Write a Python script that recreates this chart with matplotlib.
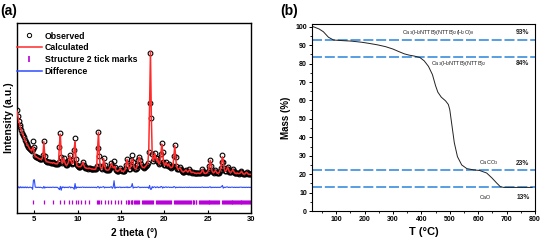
import numpy as np
import matplotlib
matplotlib.use("Agg")
import matplotlib.pyplot as plt
from matplotlib.lines import Line2D
from matplotlib.ticker import MultipleLocator

plt.rcParams['font.family'] = ['Liberation Sans', 'DejaVu Sans']
plt.rcParams['mathtext.fontset'] = 'custom'
plt.rcParams['mathtext.rm'] = 'Liberation Sans'
plt.rcParams['mathtext.bf'] = 'Liberation Sans:bold'

# ---------------- (a) PXRD Rietveld data, 2theta scan 3-30 deg, step 0.1 ----------------
two_theta = np.round(np.arange(3.0, 30.05, 0.1), 1)

observed = [
    54.0, 51.0, 48.5, 46.5, 45.0, 43.7, 42.2, 41.0, 39.8, 38.5,
    37.5, 36.5, 35.7, 35.0, 34.2, 33.6, 33.0, 32.5, 33.5, 38.0,
    35.0, 30.0, 29.6, 29.3, 29.0, 28.7, 28.5, 28.3, 28.2, 28.4,
    30.5, 38.0, 30.0, 27.6, 27.2, 27.0, 26.8, 26.7, 26.6, 26.5,
    26.4, 26.3, 26.6, 26.2, 26.0, 25.9, 25.9, 26.0, 27.0, 35.0,
    42.0, 29.5, 26.5, 26.8, 29.0, 26.8, 25.6, 25.4, 25.5, 26.2,
    28.0, 30.5, 28.0, 26.2, 25.8, 26.5, 33.0, 39.5, 28.5, 25.2,
    24.6, 24.4, 24.3, 24.4, 24.6, 25.5, 27.0, 25.4, 24.2, 23.8,
    23.6, 23.5, 23.4, 23.6, 23.5, 23.3, 23.2, 23.1, 23.0, 23.0,
    23.0, 23.3, 25.0, 34.0, 42.8, 30.0, 24.5, 23.5, 23.4, 24.8,
    29.0, 25.5, 23.2, 22.8, 22.6, 22.5, 22.8, 23.5, 24.8, 26.5,
    24.5, 24.0, 27.5, 24.0, 22.6, 22.2, 22.0, 22.1, 22.8, 23.6,
    22.6, 22.0, 21.9, 22.0, 22.3, 23.0, 25.5, 28.5, 25.5, 23.4,
    23.2, 24.5, 28.0, 30.5, 27.0, 24.2, 23.4, 23.3, 23.8, 25.5,
    28.0, 29.5, 28.0, 25.8, 24.6, 24.0, 23.8, 24.0, 24.4, 25.0,
    25.5, 26.5, 32.0, 58.0, 84.0, 50.0, 31.0, 27.5, 28.5, 31.5,
    29.0, 27.5, 29.0, 27.0, 25.8, 26.5, 31.0, 36.7, 32.0, 27.0,
    25.2, 25.5, 27.0, 25.3, 24.8, 26.0, 24.8, 24.0, 23.8, 24.2,
    25.0, 30.0, 35.8, 29.5, 24.6, 23.4, 23.0, 23.2, 24.0, 23.0,
    22.2, 21.8, 21.6, 21.8, 22.3, 22.8, 22.0, 21.6, 21.8, 23.0,
    22.2, 21.4, 21.2, 21.6, 21.2, 21.0, 20.9, 20.8, 20.9, 21.0,
    20.9, 20.8, 21.0, 21.8, 23.0, 22.0, 21.0, 20.8, 20.9, 21.2,
    21.6, 22.5, 25.0, 28.0, 25.0, 22.2, 21.4, 21.2, 21.6, 22.5,
    21.6, 21.0, 20.9, 21.2, 22.0, 23.5, 27.0, 30.5, 27.0, 23.5,
    22.0, 22.2, 23.2, 24.4, 23.0, 21.8, 21.4, 21.6, 22.2, 23.0,
    22.0, 21.2, 20.9, 20.8, 21.0, 20.8, 20.7, 20.9, 21.4, 22.0,
    21.2, 20.6, 20.4, 20.6, 21.0, 21.5, 20.8, 20.4, 20.3, 20.4,
    20.3,
]

calculated = [
    53.6, 51.3, 48.2, 46.8, 44.7, 43.9, 42.0, 41.2, 39.6, 38.7,
    37.3, 36.7, 35.5, 35.2, 34.3, 33.4, 33.1, 32.6, 34.5, 34.2,
    31.0, 29.8, 29.7, 29.2, 29.1, 28.6, 28.6, 28.2, 28.3, 28.6,
    30.9, 37.5, 30.4, 27.5, 27.3, 26.9, 26.9, 26.6, 26.7, 26.4,
    26.5, 26.2, 26.5, 26.3, 25.9, 26.0, 25.8, 26.1, 27.6, 36.2,
    41.5, 31.0, 26.2, 26.9, 28.8, 27.0, 25.5, 25.5, 25.4, 26.4,
    27.8, 30.2, 28.3, 26.1, 25.9, 26.7, 34.0, 37.5, 29.2, 25.0,
    24.7, 24.3, 24.4, 24.3, 24.7, 25.4, 26.8, 25.5, 24.1, 23.9,
    23.5, 23.6, 23.3, 23.7, 23.4, 23.4, 23.1, 23.2, 22.9, 23.1,
    22.9, 23.4, 25.2, 33.6, 42.5, 30.4, 24.3, 23.6, 23.3, 24.6,
    28.6, 25.8, 23.1, 22.9, 22.5, 22.6, 22.7, 23.6, 24.6, 26.2,
    25.0, 23.8, 24.0, 24.5, 22.5, 22.3, 21.9, 22.2, 22.7, 23.4,
    22.8, 21.9, 22.0, 21.9, 22.4, 22.9, 25.6, 28.2, 25.7, 23.3,
    23.3, 24.4, 27.6, 28.5, 27.4, 24.1, 23.5, 23.2, 23.9, 25.4,
    27.7, 29.4, 28.2, 25.7, 24.7, 23.9, 23.9, 23.9, 24.5, 24.9,
    25.6, 26.4, 32.5, 57.0, 85.0, 51.0, 30.6, 27.7, 28.3, 31.2,
    29.2, 27.4, 28.7, 27.2, 25.7, 26.6, 30.6, 36.3, 32.4, 26.8,
    25.3, 25.4, 26.7, 25.4, 24.7, 25.8, 24.9, 23.9, 23.9, 24.1,
    25.1, 29.6, 35.5, 29.8, 24.5, 23.5, 22.9, 23.3, 23.8, 23.1,
    22.1, 21.9, 21.5, 21.9, 22.2, 22.7, 22.1, 21.5, 21.9, 22.8,
    22.3, 21.3, 21.3, 21.5, 21.3, 20.9, 21.0, 20.7, 21.0, 20.9,
    21.0, 20.7, 21.1, 21.7, 22.8, 22.1, 20.9, 20.9, 20.8, 21.3,
    21.5, 22.6, 24.8, 27.7, 25.2, 22.1, 21.5, 21.1, 21.7, 22.4,
    21.7, 20.9, 21.0, 21.1, 22.1, 23.4, 26.6, 29.5, 27.4, 23.4,
    22.1, 22.1, 23.0, 24.2, 23.1, 21.7, 21.5, 21.5, 22.1, 22.9,
    22.1, 21.1, 21.0, 20.7, 21.1, 20.7, 20.8, 20.8, 21.3, 21.9,
    21.3, 20.5, 20.5, 20.5, 21.1, 21.4, 20.9, 20.3, 20.4, 20.3,
    20.4,
]

diff_offset = 13.5

# Bragg positions (structure 2)
tick_positions = [
    4.9, 6.15, 7.2, 7.95, 8.45, 9.0, 9.35, 9.75, 10.05, 10.4, 10.8, 11.25,
    12.2, 12.35, 12.5, 12.65, 13.15, 13.5, 13.85, 14.25, 14.6, 14.95,
    15.62, 15.75, 15.86, 15.98, 16.1, 16.22, 16.31, 16.45, 16.58, 16.7,
    16.83, 16.95, 17.06, 17.4, 17.52, 17.63, 17.77, 17.88, 18.0, 18.12,
    18.25, 18.36, 18.48, 18.6, 18.72, 19.05, 19.16, 19.28, 19.4, 19.51,
    19.63, 19.75, 19.86, 19.98, 20.1, 20.21, 20.33, 20.45, 20.56, 20.68,
    20.8, 21.15, 21.26, 21.38, 21.5, 21.61, 21.73, 21.85, 21.96, 22.08,
    22.2, 22.31, 22.43, 22.55, 22.66, 22.78, 22.9, 23.01, 23.13, 23.25,
    23.36, 23.48, 23.6, 23.71, 24.05, 24.15, 24.26, 24.36, 24.47, 24.57,
    24.68, 24.78, 24.89, 24.99, 25.1, 25.2, 25.31, 25.41, 25.52, 25.62,
    25.73, 25.83, 25.94, 26.04, 26.15, 26.25, 26.7, 26.8, 26.91, 27.01,
    27.12, 27.22, 27.33, 27.43, 27.54, 27.64, 27.75, 27.85, 27.96, 28.06,
    28.17, 28.27, 28.38, 28.48, 28.59, 28.69, 28.8, 28.9, 29.01, 29.11,
    29.22, 29.32, 29.43, 29.53, 29.64, 29.74, 29.85, 29.95,
]

# ---------------- (b) TGA data ----------------
temperature = [15, 20, 40, 55, 73, 91, 120, 154, 190, 215, 245, 274, 300, 321,
               340, 357, 375, 395, 410, 425, 439, 450, 458, 470, 485, 495, 500,
               508, 516, 527, 542, 560, 585, 605, 630, 648, 665, 678, 690, 790]
mass = [100.0, 100.0, 98.8, 97.3, 94.3, 92.8, 92.5, 92.2, 91.6, 91.0, 90.2, 89.2,
        87.9, 86.5, 85.3, 84.6, 84.1, 83.3, 81.5, 78.5, 74.0, 68.0, 64.5, 61.8,
        59.8, 57.8, 55.0, 46.0, 37.0, 29.5, 25.0, 23.0, 22.3, 22.0, 20.6, 18.0,
        15.2, 13.2, 12.8, 12.8]

step_levels = [92.6, 83.4, 22.2, 13.0]
step_names = [r'Ca$_3$(H$_2$NTTB)(NTTB)$_2$(H$_2$O)$_8$',
              r'Ca$_3$(H$_2$NTTB)(NTTB)$_2$', r'CaCO$_3$', 'CaO']
step_name_pos = [(333, 96.9), (434, 79.9), (603, 26.4), (605, 7.4)]
step_percent = ['93%', '84%', '23%', '13%']
step_percent_y = [96.9, 79.9, 25.8, 7.4]

fig = plt.figure(figsize=(5.43, 2.47), dpi=100)

# ---------- panel (a) ----------
ax1 = fig.add_axes([17 / 543, 34 / 247, 234 / 543, 190 / 247])
obs = np.array(observed)
calc = np.array(calculated)

ax1.plot(two_theta, obs, ls='none', marker='o', ms=3.4, mfc='none', mec='black',
         mew=0.8, zorder=2)
ax1.plot(two_theta, calc, color='#ff2a2a', lw=1.1, zorder=3)
ax1.plot(two_theta, obs - calc + diff_offset, color='#2d4bff', lw=0.8, zorder=2)
ax1.vlines(tick_positions, 4.6, 7.0, color='#b800d8', lw=0.9, zorder=2)

ax1.set_xlim(3, 30)
ax1.set_ylim(0, 100)
ax1.set_yticks([])
ax1.set_xticks([5, 10, 15, 20, 25, 30])
ax1.tick_params(axis='x', direction='in', length=2, width=0.8, pad=2.5, labelsize=5.5)
for lab in ax1.get_xticklabels():
    lab.set_fontweight('bold')
for sp in ax1.spines.values():
    sp.set_linewidth(1.0)
ax1.set_xlabel('2 theta (°)', fontsize=7.3, fontweight='bold', labelpad=3)
ax1.set_ylabel('Intensity (a.u.)', fontsize=7.5, fontweight='bold', labelpad=2)

handles = [
    Line2D([], [], ls='none', marker='o', ms=3.1, mfc='none', mec='black', mew=0.7),
    Line2D([], [], color='#ff2a2a', lw=1.1),
    Line2D([], [], ls='none', marker='|', ms=4, mew=1.2, color='#b800d8'),
    Line2D([], [], color='#2d4bff', lw=1.1),
]
labels = ['Observed', 'Calculated', 'Structure 2 tick marks', 'Difference']
ax1.legend(handles, labels, loc='upper left', bbox_to_anchor=(0.0, 0.955),
           frameon=False, borderpad=0, borderaxespad=0, handlelength=2.8,
           handletextpad=0.35, labelspacing=0.32, numpoints=1,
           prop={'size': 6.3, 'weight': 'bold'})

fig.text(0.0, 0.985, '(a)', fontsize=10, fontweight='bold', va='top', ha='left')

# ---------- panel (b) ----------
ax2 = fig.add_axes([312 / 543, 36 / 247, 223 / 543, 187 / 247])
for lvl in step_levels:
    ax2.axhline(lvl, color='#3a8ede', lw=1.2, dashes=(6, 1.7), zorder=1)
ax2.plot(temperature, mass, color='#222222', lw=0.7, zorder=2)

for name, (tx, ty) in zip(step_names, step_name_pos):
    ax2.text(tx, ty, name, fontsize=4.0, va='center', ha='left', color='#222222')
for pct, py in zip(step_percent, step_percent_y):
    ax2.text(757, py, pct, fontsize=4.8, fontweight='bold', va='center',
             ha='center', color='#222222')

ax2.set_xlim(15, 800)
ax2.set_ylim(0, 101.5)
ax2.xaxis.set_major_locator(MultipleLocator(100))
ax2.xaxis.set_minor_locator(MultipleLocator(50))
ax2.yaxis.set_major_locator(MultipleLocator(10))
ax2.yaxis.set_minor_locator(MultipleLocator(5))
ax2.set_xticks(range(100, 801, 100))
ax2.tick_params(which='major', direction='out', length=2.2, width=0.7, pad=1.5,
                labelsize=5)
ax2.tick_params(which='minor', direction='out', length=1.2, width=0.6)
for lab in ax2.get_xticklabels() + ax2.get_yticklabels():
    lab.set_fontweight('bold')
for sp in ax2.spines.values():
    sp.set_linewidth(0.8)
ax2.set_xlabel('T (°C)', fontsize=8, fontweight='bold', labelpad=3)
ax2.set_ylabel('Mass (%)', fontsize=7, fontweight='bold', labelpad=3)

fig.text(280 / 543, 0.985, '(b)', fontsize=10, fontweight='bold', va='top', ha='left')

fig.savefig('out.png', dpi=100)
